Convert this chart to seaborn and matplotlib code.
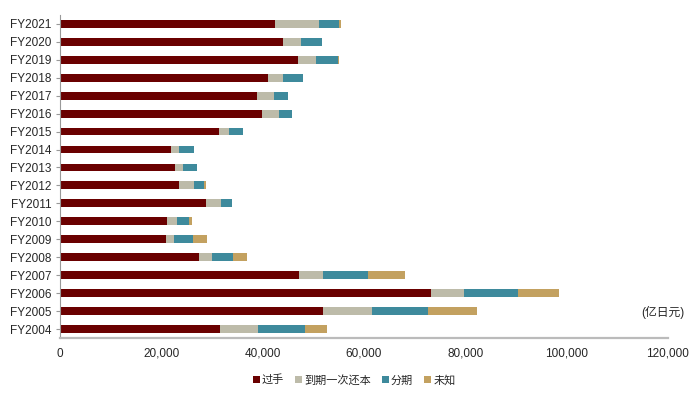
import numpy as np
import pandas as pd
import seaborn as sns
import matplotlib.pyplot as plt
from matplotlib.patches import Patch

# data (亿日元)
years = ["FY2021", "FY2020", "FY2019", "FY2018", "FY2017", "FY2016", "FY2015",
         "FY2014", "FY2013", "FY2012", "FY2011", "FY2010", "FY2009", "FY2008",
         "FY2007", "FY2006", "FY2005", "FY2004"]
guoshou = [42470, 43990, 47020, 41020, 38910, 39840, 31400, 21910, 22770, 23490,
           28770, 21120, 20860, 27380, 47090, 73250, 51960, 31590]
daoqi = [8580, 3560, 3550, 2910, 3240, 3300, 1970, 1460, 1450, 2900,
         2960, 1850, 1580, 2510, 4810, 6460, 9690, 7460]
fenqi = [4070, 4210, 4290, 4010, 2830, 2690, 2770, 3080, 2830, 2040,
         2180, 2440, 3700, 4270, 8900, 10740, 10940, 9350]
weizhi = [280, 0, 270, 0, 0, 0, 0, 0, 0, 270,
          0, 650, 2820, 2770, 7370, 8110, 9820, 4230]

series = ["过手", "到期一次还本", "分期", "未知"]
colors = ["#6a0000", "#bdbba9", "#3e8a9c", "#c3a160"]

df = pd.DataFrame({"year": years, "过手": guoshou, "到期一次还本": daoqi,
                   "分期": fenqi, "未知": weizhi})
cum = df[series].cumsum(axis=1)

sns.set_style("white")
plt.rcParams["font.family"] = ["Liberation Sans", "Noto Sans CJK SC", "DejaVu Sans"]

fig = plt.figure(figsize=(7, 3.97), dpi=100)
ax = fig.add_axes([0.086, 0.148, 0.868, 0.815])

# stacked bars: draw cumulative totals from the outside in
for s, c in zip(series[::-1], colors[::-1]):
    sns.barplot(x=cum[s], y=df["year"], order=years, color=c, orient="h",
                width=0.44, saturation=1, ax=ax, linewidth=0)

ax.set_xlim(0, 120000)
ax.set_ylim(len(years) - 0.5, -0.5)
ax.set_xticks(np.arange(0, 120001, 20000))
ax.set_xticklabels([f"{v:,}" for v in range(0, 120001, 20000)], fontsize=8.5)
ax.tick_params(axis="y", labelsize=8.5, length=3, color="#999999", left=True, pad=3)
ax.tick_params(axis="x", length=0, pad=7)
ax.set_xlabel("")
ax.set_ylabel("")
for side in ["top", "right"]:
    ax.spines[side].set_visible(False)
ax.spines["left"].set_color("#999999")
ax.spines["left"].set_linewidth(0.8)
ax.spines["bottom"].set_color("#bbbbbb")
ax.spines["bottom"].set_linewidth(1.6)

ax.text(1.027, 0.08, "(亿日元)", transform=ax.transAxes, ha="right",
        va="center", fontsize=8.5)

handles = [Patch(facecolor=c, edgecolor="none") for c in colors]
fig.legend(handles, series, loc="center", bbox_to_anchor=(0.506, 0.043), ncol=4,
           frameon=False, fontsize=8, handlelength=0.6, handleheight=0.6,
           handletextpad=0.2, columnspacing=1.0)

fig.savefig("out.png", dpi=100)
